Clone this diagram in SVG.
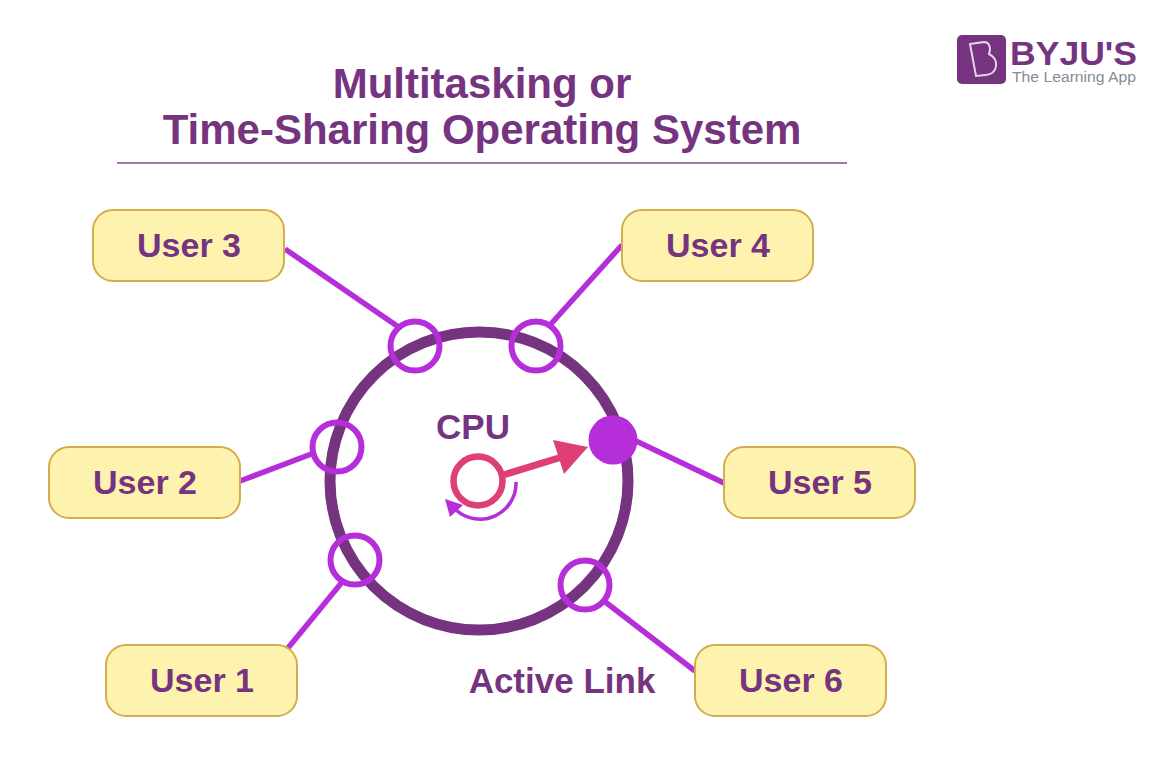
<svg xmlns="http://www.w3.org/2000/svg" width="1174" height="770" viewBox="0 0 1174 770">
<style>
text{font-family:"Liberation Sans",Arial,sans-serif;font-weight:700;fill:#763480}
.title{font-size:42px;text-anchor:middle}
.lab{font-size:34px;text-anchor:middle}
.box{fill:#fdf3ae;stroke:#d4ac4d;stroke-width:2}
.link{fill:none;stroke:#b52ed9;stroke-width:5.5}
.port{fill:none;stroke:#b52ed9;stroke-width:6}
</style>
<rect width="1174" height="770" fill="#fff"/>
<g id="logo">
<rect x="957" y="35" width="49" height="49" rx="5" fill="#763480"/>
<path d="M970 44L984 42Q990 42 990 50L989 54Q997 58 996 66Q995 74 986 75L976 76Z" fill="none" stroke="#e6d5e9" stroke-width="2"/>
<text x="1010" y="65" font-size="32.500" textLength="127" lengthAdjust="spacingAndGlyphs">BYJU'S</text>
<text x="1012" y="82" font-size="14" textLength="124" lengthAdjust="spacingAndGlyphs" style="fill:#8a8a94;font-weight:400">The Learning App</text>
</g>
<g id="title">
<text class="title" x="482" y="98">Multitasking or</text>
<text class="title" x="482" y="144">Time-Sharing Operating System</text>
<line x1="117" y1="163" x2="847" y2="163" stroke="#a872b5" stroke-width="2"/>
</g>
<g id="connectors">
<line class="link" x1="285" y1="249" x2="400" y2="328"/>
<line class="link" x1="622" y1="245" x2="550" y2="325"/>
<line class="link" x1="240" y1="481" x2="314" y2="453"/>
<line class="link" x1="636" y1="441" x2="724" y2="483"/>
<line class="link" x1="288" y1="648" x2="343" y2="581"/>
<line class="link" x1="604" y1="601" x2="695" y2="671"/>
</g>
<g id="ring"><circle cx="479" cy="481" r="149" fill="none" stroke="#763480" stroke-width="11"/></g>
<g id="port-3"><circle class="port" cx="415" cy="346" r="24.500"/></g>
<g id="port-4"><circle class="port" cx="536" cy="346" r="24.500"/></g>
<g id="port-2"><circle class="port" cx="337" cy="447" r="24.500"/></g>
<g id="port-1"><circle class="port" cx="355" cy="560" r="24.500"/></g>
<g id="port-6"><circle class="port" cx="585" cy="585" r="24.500"/></g>
<g id="port-5"><circle cx="613" cy="440" r="24.500" fill="#b52ed9"/></g>
<g id="cpu">
<text x="473" y="439" font-size="35" text-anchor="middle">CPU</text>
<circle cx="478" cy="481" r="24.500" fill="#fff" stroke="#de3f76" stroke-width="6.500"/>
<line x1="503" y1="475" x2="562" y2="457" stroke="#de3f76" stroke-width="7"/>
<polygon points="553,440 588,447 564,474" fill="#de3f76"/>
<path d="M516 482A36 36 0 0 1 456 510" fill="none" stroke="#b52ed9" stroke-width="3.500"/>
<polygon points="445,499 463,505 450,517" fill="#b52ed9"/>
</g>
<g id="user-3"><rect class="box" x="93" y="210" width="191" height="71" rx="20"/><text class="lab" x="189" y="257">User 3</text></g>
<g id="user-4"><rect class="box" x="622" y="210" width="191" height="71" rx="20"/><text class="lab" x="718" y="257">User 4</text></g>
<g id="user-2"><rect class="box" x="49" y="447" width="191" height="71" rx="20"/><text class="lab" x="145" y="494">User 2</text></g>
<g id="user-5"><rect class="box" x="724" y="447" width="191" height="71" rx="20"/><text class="lab" x="820" y="494">User 5</text></g>
<g id="user-1"><rect class="box" x="106" y="645" width="191" height="71" rx="20"/><text class="lab" x="202" y="692">User 1</text></g>
<g id="user-6"><rect class="box" x="695" y="645" width="191" height="71" rx="20"/><text class="lab" x="791" y="692">User 6</text></g>
<text x="562" y="693" font-size="35" text-anchor="middle">Active Link</text>
</svg>
